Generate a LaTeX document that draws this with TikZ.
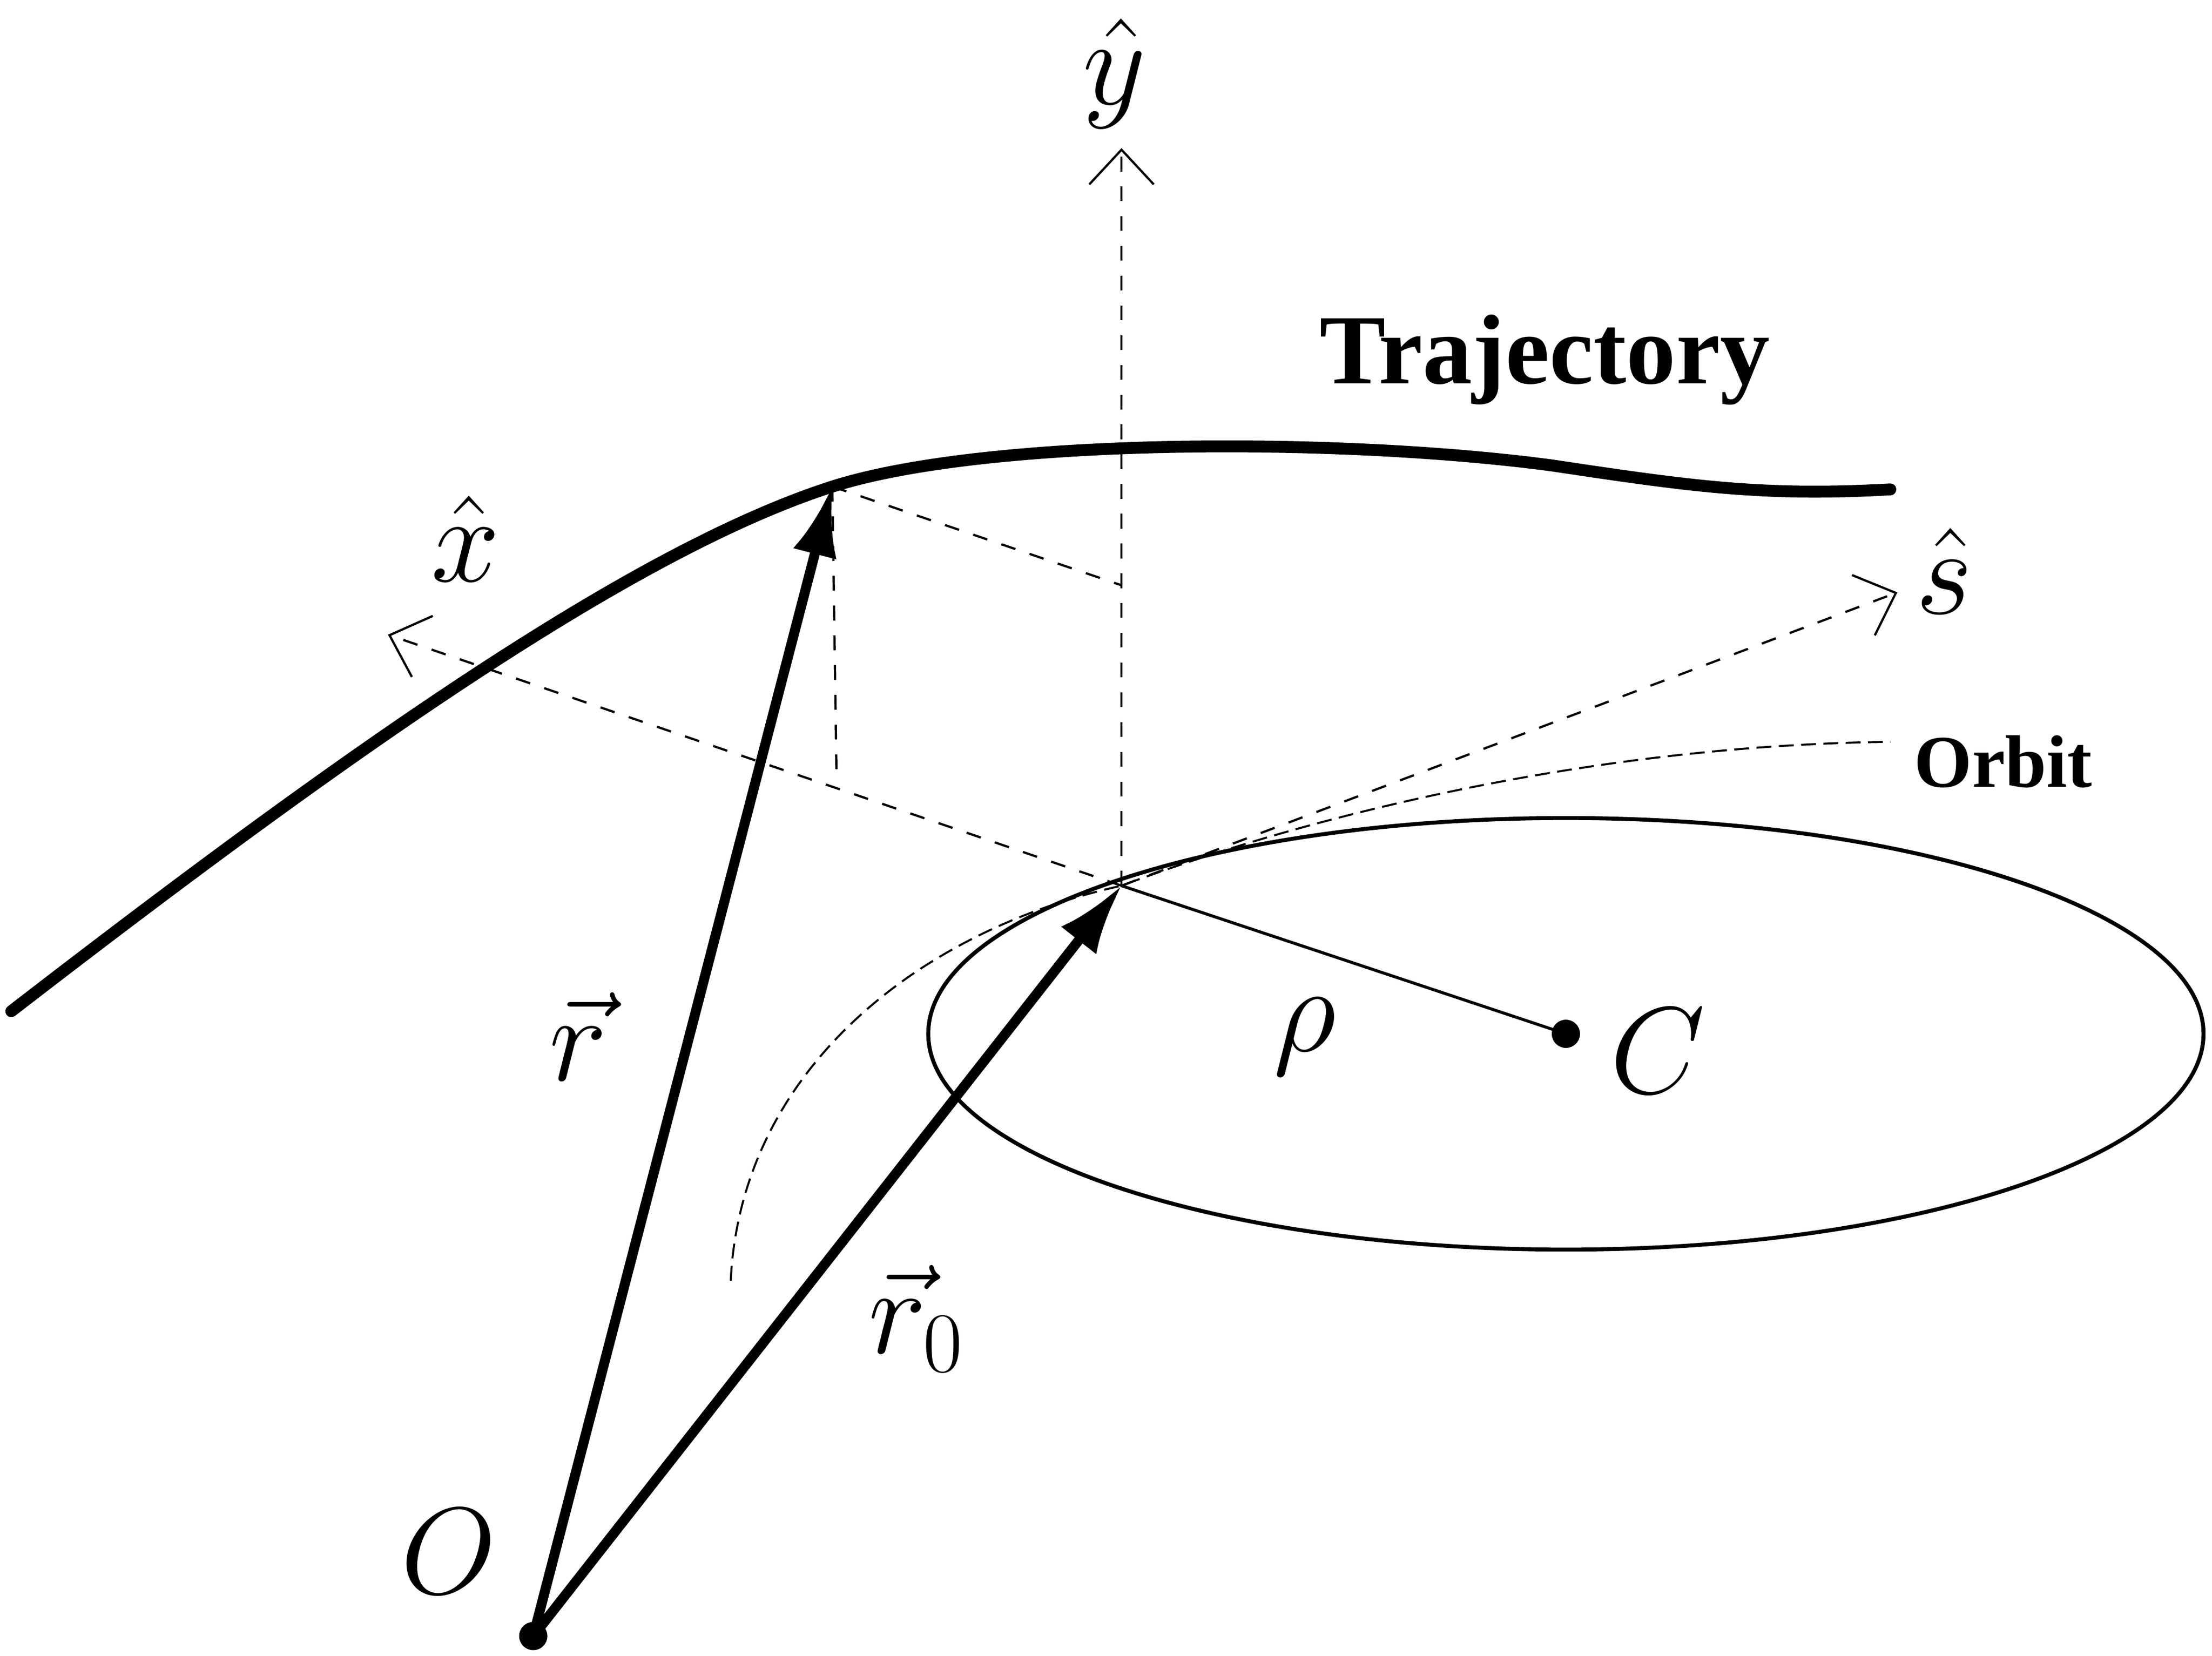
\documentclass[tikz,border=0pt]{standalone}
\usepackage{fontspec}
\setmainfont{Liberation Serif}
\usetikzlibrary{arrows.meta}
\tikzset{
 vec/.style={line width=2pt,-{Latex[length=14pt,width=9pt]}},
 axis/.style={dashed,line width=0.45pt,-{Straight Barb[length=7pt,width=13pt]}},
 helper/.style={dashed,line width=0.45pt},
 lab/.style={font=\fontsize{24}{28}\selectfont},
 blab/.style={font=\bfseries\fontsize{20}{24}\selectfont},
}
\begin{document}
\begin{tikzpicture}[x=0.01cm,y=-0.01cm]
\useasboundingbox (0,0) rectangle (1568,1174);
\coordinate (O) at (378,1160);
\coordinate (P) at (590,345);
\coordinate (Q) at (795,628);
\coordinate (C) at (1110,733);
\coordinate (yend) at (795,105);
\coordinate (xend) at (275,450);
\coordinate (send) at (1345,420);
\draw[line width=0.8pt] (C) ellipse [x radius=452, y radius=153];
\draw[line width=2.4pt,line cap=round] (8,717) .. controls (250,530) and (450,390) .. (P) .. controls (700,310) and (950,310) .. (1100,330) .. controls (1200,345) and (1250,352) .. (1340,347);
\draw[line width=0.4pt,dash pattern=on 3pt off 1.5pt] (518,908) .. controls (525,760) and (650,660) .. (Q) .. controls (950,570) and (1150,528) .. (1340,526);
\draw[axis] (Q) -- (yend);
\draw[axis] (Q) -- (xend);
\draw[axis] (Q) -- (send);
\draw[helper] (P) -- (593,552);
\draw[helper] (P) -- (795,415);
\draw[line width=0.6pt] (Q) -- (C);
\fill (C) circle (10);
\fill (O) circle (10);
\draw[vec] (O) -- (P);
\draw[vec] (O) -- (Q);
\node[lab] (ly) at (790,52) {$\hat{y}$};
\node[lab] (lx) at (330,382) {$\hat{x}$};
\node[lab] (ls) at (1378,405) {$\hat{s}$};
\node[lab] (lrho) at (925,735) {$\rho$};
\node[lab] (lC) at (1175,745) {$C$};
\node[lab] (lr) at (410,735) {$\vec{r}$};
\node[lab] (lr0) at (650,935) {$\vec{r}_0$};
\node[lab] (lO) at (318,1100) {$O$};
\node[blab] (lt) at (1095,255) {Trajectory};
\node[blab,font=\bfseries\fontsize{15}{18}\selectfont] (lo) at (1420,540) {Orbit};
\end{tikzpicture}
\end{document}
